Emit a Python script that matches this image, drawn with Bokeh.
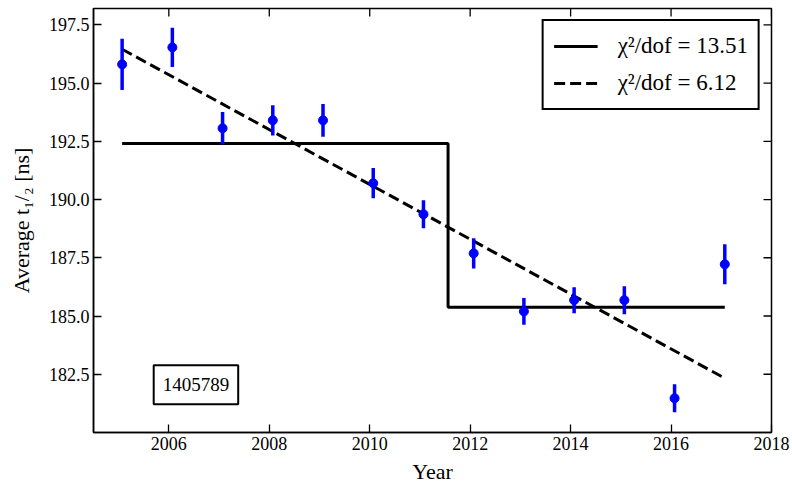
from bokeh.plotting import figure
from bokeh.models import (Range1d, FixedTicker, PrintfTickFormatter,
                          Legend, LegendItem, Label, ColumnDataSource)
from bokeh.embed import file_html
from bokeh.resources import INLINE

# ---- data ----
years = [2005.07, 2006.07, 2007.07, 2008.07, 2009.07, 2010.07, 2011.07,
         2012.07, 2013.07, 2014.07, 2015.07, 2016.07, 2017.07]
avg_t = [195.80, 196.53, 193.06, 193.40, 193.40, 190.70, 189.37,
         187.69, 185.20, 185.68, 185.68, 181.47, 187.22]
err = [1.10, 0.84, 0.70, 0.65, 0.70, 0.65, 0.60,
       0.65, 0.57, 0.56, 0.60, 0.60, 0.86]

step_year = 2011.56
step_levels = [192.41, 185.38]          # before / after the step
lin_fit_ends = [196.45, 182.33]         # linear fit at first / last year

chi_labels = ["χ²/dof = 13.51", "χ²/dof = 6.12"]
run_label = "1405789"
x_title = "Year"
y_title = "Average t₁/₂ [ns]"

x_ticks = [2006, 2008, 2010, 2012, 2014, 2016, 2018]
y_ticks = [182.5, 185.0, 187.5, 190.0, 192.5, 195.0, 197.5]

FONT = "Liberation Serif"
X0, X1 = 2004.5, 2018.0
Y0, Y1 = 180.0, 198.2
W, H = 792, 488
BL, BR, BT, BB = 93, 21, 8, 56
FW, FH = W - BL - BR, H - BT - BB
PXX = (X1 - X0) / FW     # data units per px, x
PXY = (Y1 - Y0) / FH     # data units per px, y
TICK = 8  # px

p = figure(width=W, height=H, output_backend="svg", toolbar_location=None,
           x_range=Range1d(X0, X1), y_range=Range1d(Y0, Y1),
           min_border_left=BL, min_border_right=BR, min_border_top=BT,
           min_border_bottom=BB)
p.xgrid.visible = False
p.ygrid.visible = False
p.outline_line_color = "black"
p.outline_line_width = 1.5
p.background_fill_color = "white"
p.border_fill_color = "white"

src = ColumnDataSource(dict(x=years, y=avg_t,
                            lo=[v - e for v, e in zip(avg_t, err)],
                            hi=[v + e for v, e in zip(avg_t, err)]))

# step fit
step_r = p.line([years[0], step_year, step_year, years[-1]],
                [step_levels[0], step_levels[0], step_levels[1], step_levels[1]],
                line_color="black", line_width=3)
# linear fit
lin_r = p.line([years[0], years[-1]], lin_fit_ends, line_color="black",
               line_width=3, line_dash="11 5")

p.segment(x0="x", y0="lo", x1="x", y1="hi", source=src, line_color="blue",
          line_width=3.5)
p.scatter(x="x", y="y", source=src, size=9, color="blue")

# inward ticks on the top and right edges (mirror of the bottom/left ticks)
dx = TICK * PXX
dy = TICK * PXY
p.segment(x0=x_ticks, x1=x_ticks, y0=[Y1] * len(x_ticks),
          y1=[Y1 - dy] * len(x_ticks), line_color="black", line_width=1.3)
p.segment(x0=[X1] * len(y_ticks), x1=[X1 - dx] * len(y_ticks),
          y0=y_ticks, y1=y_ticks, line_color="black", line_width=1.3)

for ax in (p.xaxis[0], p.yaxis[0]):
    ax.major_tick_in = TICK
    ax.major_tick_out = 0
    ax.minor_tick_in = 0
    ax.minor_tick_out = 0
    ax.major_tick_line_color = "black"
    ax.major_tick_line_width = 1.3
    ax.axis_line_color = "black"
    ax.axis_line_width = 1.5
    ax.major_label_text_font = FONT
    ax.major_label_text_font_size = "18px"
    ax.major_label_text_color = "black"
    ax.axis_label_text_font = FONT
    ax.axis_label_text_font_size = "22px"
    ax.axis_label_text_font_style = "normal"
    ax.axis_label_text_color = "black"

p.xaxis.ticker = FixedTicker(ticks=x_ticks)
p.yaxis.ticker = FixedTicker(ticks=y_ticks)
p.yaxis.formatter = PrintfTickFormatter(format="%.1f")
p.xaxis.major_label_standoff = 4
p.xaxis.axis_label_standoff = 6
p.yaxis.major_label_standoff = 4
p.yaxis.axis_label_standoff = 12
p.xaxis.axis_label = x_title
p.yaxis.axis_label = y_title

legend = Legend(items=[LegendItem(label=chi_labels[0], renderers=[step_r]),
                       LegendItem(label=chi_labels[1], renderers=[lin_r])],
                location="top_right")
legend.border_line_color = "black"
legend.border_line_width = 2
legend.border_line_alpha = 1
legend.background_fill_alpha = 1
legend.label_text_font = FONT
legend.label_text_font_size = "23px"
legend.label_text_color = "black"
legend.glyph_width = 44
legend.glyph_height = 30
legend.label_height = 30
legend.label_standoff = 20
legend.padding = 10
legend.spacing = 7
legend.margin = 11
p.add_layout(legend)

box = Label(x=2006.54, y=182.05, text=run_label, text_align="center",
            text_baseline="middle", text_font=FONT, text_font_size="19px",
            text_color="black", border_line_color="black", border_line_width=2,
            background_fill_color="white",
            padding=dict(left=9, right=9, top=13, bottom=13))
p.add_layout(box)

open("out.html", "w").write(file_html(p, INLINE))
